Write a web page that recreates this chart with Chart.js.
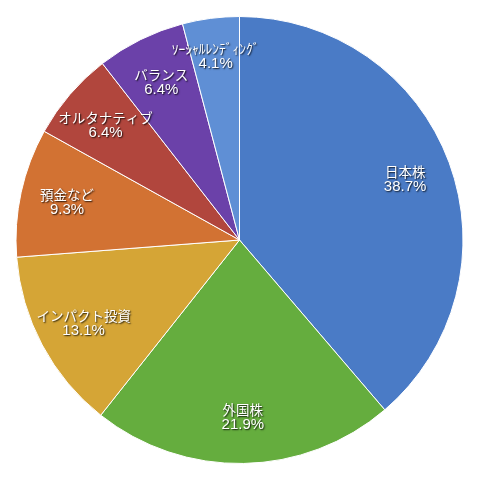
<!DOCTYPE html>
<html>
<head>
<meta charset="utf-8">
<script src="https://cdn.jsdelivr.net/npm/chart.js@4.4.1/dist/chart.umd.min.js"></script>
<style>
  html, body { margin: 0; padding: 0; background: #ffffff; }
  #wrap { width: 478px; height: 479px; }
</style>
</head>
<body>
<div id="wrap"><canvas id="pieChart" width="478" height="479"></canvas></div>
<script>
var categories = ['日本株', '外国株', 'インパクト投資', '預金など', 'オルタナティブ', 'バランス', 'ｿｰｼｬﾙﾚﾝﾃﾞｨﾝｸﾞ'];
var shares = [38.7, 21.9, 13.1, 9.3, 6.4, 6.4, 4.1];
var sliceColors = ['#4a7bc6', '#65ad3e', '#d5a536', '#d27233', '#b1463d', '#6b41a9', '#5f8fd5'];

// labels drawn inside each slice, name on top and share below
var sliceLabels = {
    id: 'sliceLabels',
    afterDatasetsDraw: function (chart) {
        var ctx = chart.ctx;
        var meta = chart.getDatasetMeta(0);
        ctx.save();
        ctx.textAlign = 'center';
        ctx.textBaseline = 'middle';
        ctx.fillStyle = '#ffffff';
        ctx.shadowColor = 'rgba(0, 0, 0, 0.85)';
        ctx.shadowOffsetX = 1;
        ctx.shadowOffsetY = 1;
        ctx.shadowBlur = 1.5;
        meta.data.forEach(function (arc, i) {
            var p = arc.getProps(['x', 'y', 'startAngle', 'endAngle', 'outerRadius'], true);
            var mid = (p.startAngle + p.endAngle) / 2;
            var small = i === categories.length - 1;
            var r = p.outerRadius * (small ? 0.83 : 0.79);
            var x = p.x + Math.cos(mid) * r;
            var y = p.y + Math.sin(mid) * r;
            ctx.font = '13.5px "Noto Sans CJK JP", sans-serif';
            ctx.fillText(categories[i], x, y - 7);
            ctx.font = '15px "Liberation Sans", sans-serif';
            ctx.fillText(shares[i].toFixed(1) + '%', x, y + 8);
        });
        ctx.restore();
    }
};

var ctx = document.getElementById('pieChart').getContext('2d');
var pieChart = new Chart(ctx, {
    type: 'pie',
    data: {
        labels: categories,
        datasets: [{
            data: shares,
            backgroundColor: sliceColors,
            borderColor: '#ffffff',
            borderWidth: 1
        }]
    },
    options: {
        responsive: false,
        animation: false,
        layout: { padding: { left: 15, right: 14, top: 16, bottom: 15 } },
        plugins: {
            legend: { display: false },
            tooltip: { enabled: false }
        }
    },
    plugins: [sliceLabels]
});
</script>
</body>
</html>
